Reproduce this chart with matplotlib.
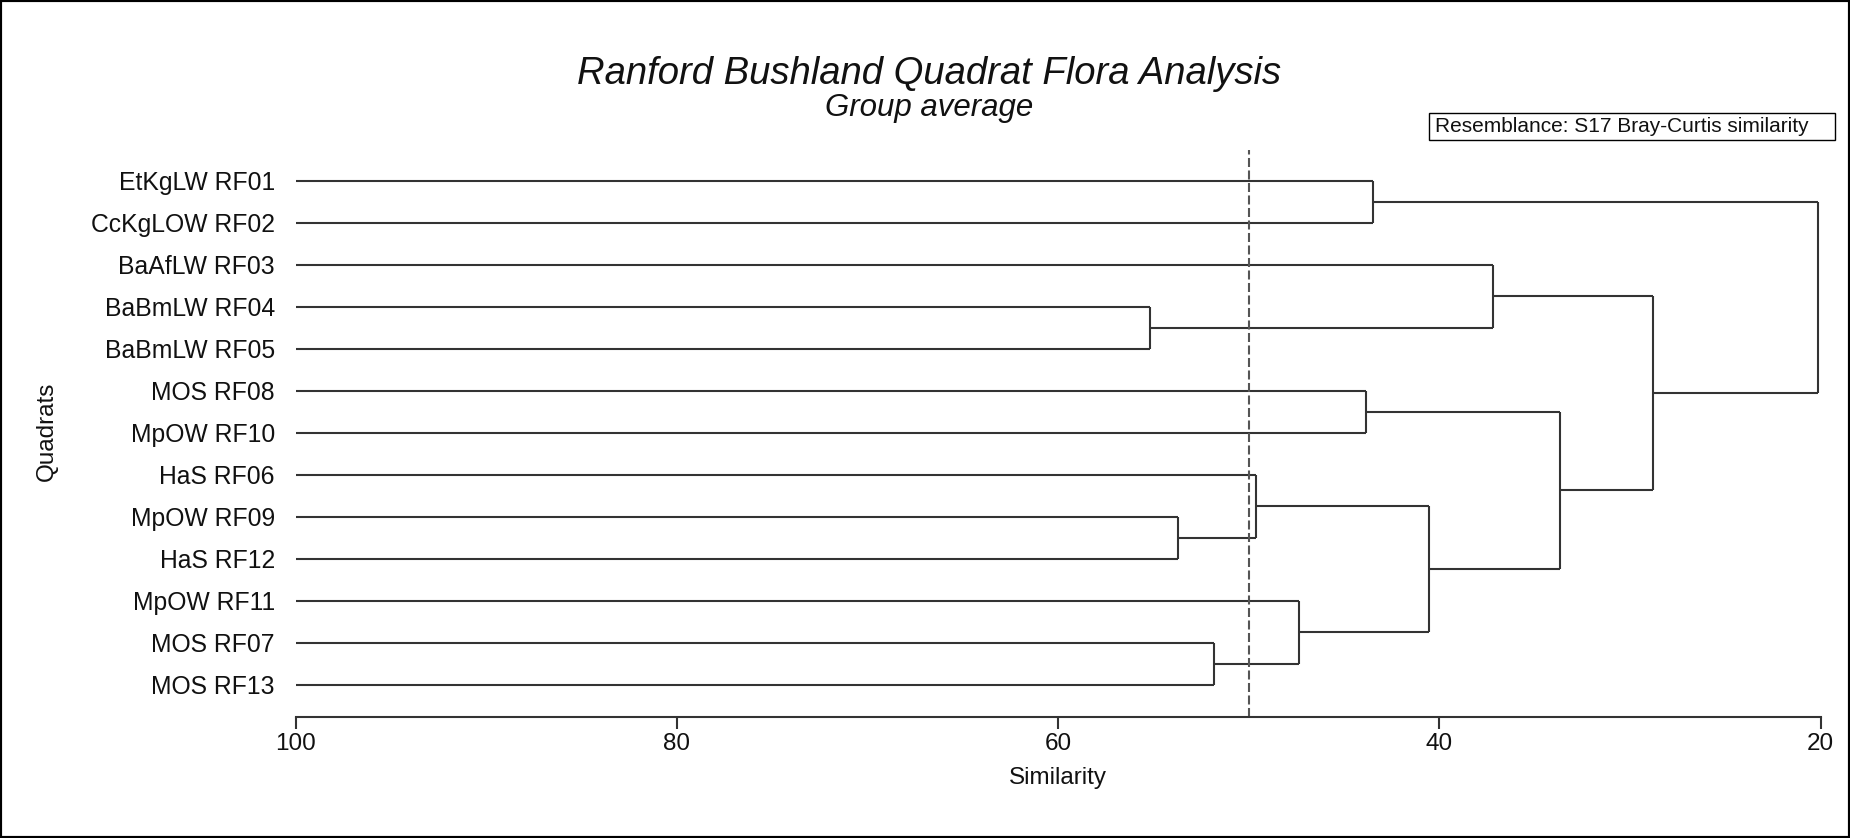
import matplotlib
matplotlib.use("Agg")
import matplotlib.pyplot as plt
from matplotlib.patches import Rectangle

plt.rcParams['font.family'] = ['Liberation Sans', 'DejaVu Sans']
plt.rcParams['lines.scale_dashes'] = False

# Quadrat labels, top to bottom in dendrogram order
quadrats = [
    "EtKgLW RF01", "CcKgLOW RF02", "BaAfLW RF03", "BaBmLW RF04",
    "BaBmLW RF05", "MOS RF08", "MpOW RF10", "HaS RF06", "MpOW RF09",
    "HaS RF12", "MpOW RF11", "MOS RF07", "MOS RF13",
]

# Group-average merges: (cluster a, cluster b, similarity %).
# Leaves are 0..12, each merge creates the next cluster id (13, 14, ...).
merge_a = [0, 3, 2, 5, 8, 7, 11, 10, 18, 16, 15, 13]
merge_b = [1, 4, 14, 6, 9, 17, 12, 19, 20, 21, 22, 23]
merge_sim = [43.5, 55.16, 37.2, 43.83, 53.73, 49.63, 51.84, 47.38,
             40.53, 33.7, 28.81, 20.12]

cut_level = 50
sim_ticks = [100, 80, 60, 40, 20]

line_col = "#333333"
text_col = "#111111"

fig = plt.figure(figsize=(18.5, 8.38), dpi=100)
ax = fig.add_axes([0.15984, 0.14475, 0.82432, 0.67625])

n = len(quadrats)
pos_y = {i: float(i) for i in range(n)}
pos_x = {i: 100.0 for i in range(n)}

for k, (a, b, s) in enumerate(zip(merge_a, merge_b, merge_sim)):
    cid = n + k
    for c in (a, b):
        ax.plot([pos_x[c], s], [pos_y[c], pos_y[c]], color=line_col,
                lw=1.5, solid_capstyle='butt')
    ax.plot([s, s], [pos_y[a], pos_y[b]], color=line_col, lw=1.5,
            solid_capstyle='butt')
    pos_x[cid] = s
    pos_y[cid] = (pos_y[a] + pos_y[b]) / 2.0

cut = ax.axvline(cut_level, color="#555555", lw=1.5)
cut.set_dashes((6.5, 2.5))

ax.set_xlim(100, 20)
ax.set_ylim(12.762, -0.731)

for side in ("top", "right", "left"):
    ax.spines[side].set_visible(False)
ax.spines["bottom"].set_color(line_col)
ax.spines["bottom"].set_linewidth(1.5)

ax.set_xticks(sim_ticks)
ax.set_xticklabels([str(t) for t in sim_ticks])
ax.tick_params(axis='x', direction='out', length=8.5, width=1.5,
               color=line_col, labelsize=17.5, labelcolor=text_col, pad=3)

ax.set_yticks(range(n))
ax.set_yticklabels(quadrats)
ax.tick_params(axis='y', length=0, pad=15, labelsize=17.8,
               labelcolor=text_col)

fig.text(0.5719, 0.0716, "Similarity", ha='center', va='center',
         fontsize=17.5, color=text_col)
fig.text(0.0254, 0.4857, "Quadrats", ha='center', va='center',
         rotation=90, fontsize=17.5, color=text_col)

fig.text(0.502, 0.912, "Ranford Bushland Quadrat Flora Analysis",
         ha='center', va='center', fontsize=27.5, style='italic',
         color=text_col)
fig.text(0.502, 0.871, "Group average", ha='center', va='center',
         fontsize=22.5, style='italic', color=text_col)

fig.patches.append(Rectangle((0.7724, 0.8329), 0.2195, 0.0322,
                             transform=fig.transFigure, fill=False,
                             edgecolor='black', lw=1.0))
fig.text(0.7757, 0.849, "Resemblance: S17 Bray-Curtis similarity",
         ha='left', va='center', fontsize=15, color=text_col)

fig.patches.append(Rectangle((0, 0), 1, 1, transform=fig.transFigure,
                             fill=False, edgecolor='black', lw=3.0))

fig.savefig("out.png", dpi=100, facecolor='white')
